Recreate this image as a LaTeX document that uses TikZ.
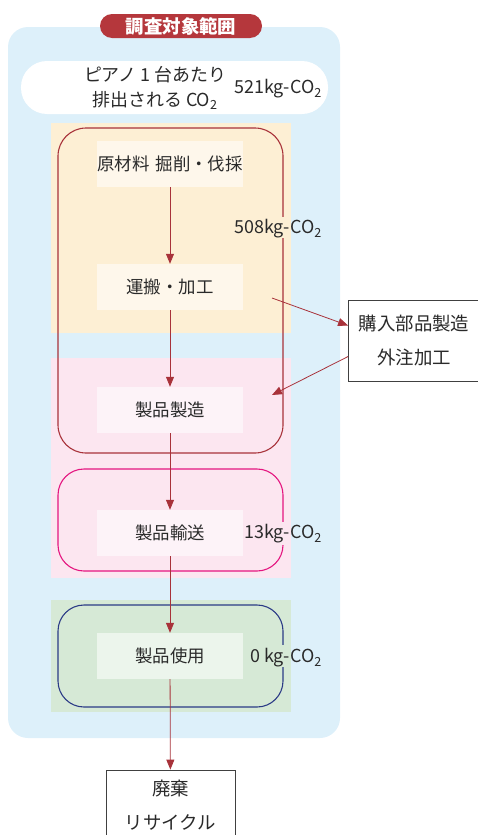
\documentclass[tikz,border=0pt]{standalone}
\usepackage{fontspec}
\setmainfont{Noto Sans CJK JP}
\usetikzlibrary{arrows.meta,positioning}

\definecolor{scopeblue}{HTML}{DDF0FA}
\definecolor{badgered}{HTML}{B5373C}
\definecolor{bandorange}{HTML}{FDEFD4}
\definecolor{bandpink}{HTML}{FCE6F0}
\definecolor{bandgreen}{HTML}{D6E9D6}
\definecolor{linered}{HTML}{A8323A}
\definecolor{linemagenta}{HTML}{E4157F}
\definecolor{linenavy}{HTML}{2B3A86}
\definecolor{inktext}{HTML}{2A2A2A}

\begin{document}
\begin{tikzpicture}[x=1bp, y=-1bp, every node/.style={text=inktext},
        stage/.style={fill=white, fill opacity=0.55, text opacity=1, minimum width=146bp,
                minimum height=46bp, inner sep=0pt, font=\fontsize{17.5}{20}\selectfont},
        amount/.style={anchor=east, inner sep=0pt, font=\fontsize{18}{20}\selectfont},
        flow/.style={linered, line width=0.8pt, -{Triangle[length=10bp, width=8bp]}},
        sidebox/.style={draw=black!75, fill=white, line width=0.8pt, align=center,
                inner sep=0pt, font=\fontsize{18.5}{34}\selectfont},
        band/.style={rounded corners=28bp, line width=1.1pt}]
        \useasboundingbox (0, 0) rectangle (478, 835);
        \clip (0, 0) rectangle (478, 835);

        % scope of the study
        \fill[scopeblue, rounded corners=20bp] (8, 27) rectangle (340, 738);
        \node[fill=badgered, rounded corners=12bp, minimum width=162bp, minimum height=24bp,
                inner sep=0pt, text=white, font=\fontsize{18.5}{20}\selectfont\bfseries]
                (badge) at (181, 26) {調査対象範囲};

        % per piano total
        \node[fill=white, rounded corners=26bp, minimum width=307bp, minimum height=53bp]
                (total) at (174.5, 87.5) {};
        \node[align=center, inner sep=0pt, font=\fontsize{18}{25}\selectfont]
                (totaltext) at (155, 88) {ピアノ 1 台あたり\\排出される CO\textsubscript{2}};
        \node[amount] (totalco) at (322, 89) {521kg-CO\textsubscript{2}};

        % stage bands
        \fill[bandorange] (51, 123) rectangle (291, 333);
        \fill[bandpink] (51, 358) rectangle (291, 578);
        \fill[bandgreen] (51, 600) rectangle (291, 712);
        \draw[band, linered] (58, 128) rectangle (283, 453);
        \draw[band, linemagenta, rounded corners=26bp] (58, 469) rectangle (283, 571);
        \draw[band, linenavy, rounded corners=26bp] (58, 605) rectangle (283, 707);

        % gaps in the outlines under the amounts
        \fill[bandorange] (279, 217) rectangle (288, 238);
        \fill[bandpink] (279, 522) rectangle (288, 545);
        \fill[bandgreen] (279, 645) rectangle (288, 667);
        \node[amount] (makeco) at (322, 229) {508kg-CO\textsubscript{2}};
        \node[amount] (shipco) at (322, 534) {13kg-CO\textsubscript{2}};
        \node[amount] (useco) at (322, 658) {0 kg-CO\textsubscript{2}};

        % stages
        \node[stage] (raw) at (170, 164) {原材料\hspace{0.35em}掘削・伐採};
        \node[stage] (haul) at (170, 287) {運搬・加工};
        \node[stage] (make) at (170, 410) {製品製造};
        \node[stage] (ship) at (170, 533) {製品輸送};
        \node[stage] (use) at (170, 656) {製品使用};

        % outside the scope
        \node[sidebox, minimum width=131bp, minimum height=81bp] (bought) at (414, 340.5)
                {購入部品製造\\外注加工};
        \node[sidebox, minimum width=129bp, minimum height=70bp] (dispose) at (170.5, 805)
                {廃棄\\リサイクル};

        \coordinate (toout) at (272, 298);
        \coordinate (toin) at (272, 395);

        \draw[flow] (raw) -- (haul);
        \draw[flow] (haul) -- (make);
        \draw[flow] (make) -- (ship);
        \draw[flow] (ship) -- (use);
        \draw[flow] (use) -- (dispose);
        \draw[flow] (toout) -- ([yshift=15bp]bought.west);
        \draw[flow] ([yshift=-16bp]bought.west) -- (toin);
\end{tikzpicture}
\end{document}
